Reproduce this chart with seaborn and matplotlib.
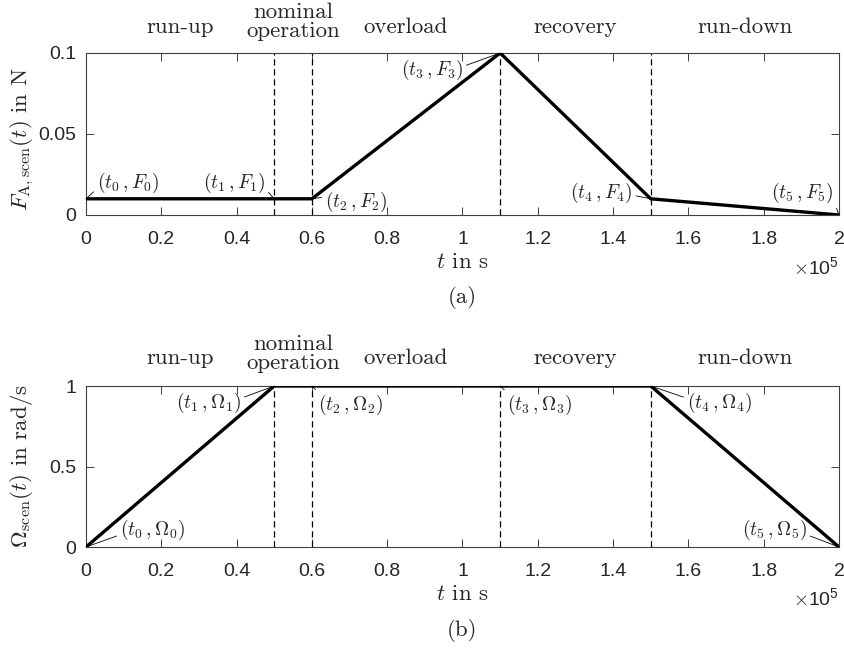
import os
import numpy as np
import pandas as pd
import matplotlib
matplotlib.use("Agg")
import matplotlib.pyplot as plt
from matplotlib.ticker import FuncFormatter, FixedLocator
from matplotlib.font_manager import FontProperties
import seaborn as sns

# ---------------- data ----------------
t_points = [0, 50000, 60000, 110000, 150000, 200000]          # s
F_values = [0.01, 0.01, 0.01, 0.10, 0.01, 0.0]                # N
Omega_values = [0.0, 1.0, 1.0, 1.0, 1.0, 0.0]                 # rad/s
phase_bounds = [50000, 60000, 110000, 150000]                 # dashed lines
phase_names = ["run-up", "nominal\noperation", "overload", "recovery", "run-down"]
phase_edges = [0, 50000, 60000, 110000, 150000, 200000]
x_ticks = [0, 20000, 40000, 60000, 80000, 100000, 120000, 140000, 160000, 180000, 200000]
F_ticks = [0, 0.05, 0.1]
Omega_ticks = [0, 0.5, 1]
F_labels = [r"$(t_0\,,F_0)$", r"$(t_1\,,F_1)$", r"$(t_2\,,F_2)$",
            r"$(t_3\,,F_3)$", r"$(t_4\,,F_4)$", r"$(t_5\,,F_5)$"]
O_labels = [r"$(t_0\,,\Omega_0)$", r"$(t_1\,,\Omega_1)$", r"$(t_2\,,\Omega_2)$",
            r"$(t_3\,,\Omega_3)$", r"$(t_4\,,\Omega_4)$", r"$(t_5\,,\Omega_5)$"]

df = pd.DataFrame({"t": t_points, "F": F_values, "Omega": Omega_values})

# ---------------- style ----------------
sns.set_style("ticks")
plt.rcParams["mathtext.fontset"] = "cm"
plt.rcParams["axes.formatter.use_mathtext"] = True
plt.rcParams["font.family"] = ["Liberation Sans", "DejaVu Sans"]

TICK_FS = 14
LABEL_FS = 16.5
ANN_FS = 14

cm_path = os.path.join(matplotlib.get_data_path(), "fonts", "ttf", "cmr10.ttf")
def serif_fp(size):
    if os.path.exists(cm_path):
        return FontProperties(fname=cm_path, size=size)
    return FontProperties(family="Liberation Serif", size=size)

fig = plt.figure(figsize=(8.45, 6.5), dpi=100)
ax1 = fig.add_axes([86 / 845, 1 - 215 / 650, (839 - 86) / 845, 162 / 650])
ax2 = fig.add_axes([86 / 845, 1 - 547 / 650, (839 - 86) / 845, 161 / 650])

def style_axes(ax, yticks, ylim):
    ax.set_xlim(0, 200000)
    ax.set_ylim(*ylim)
    ax.xaxis.set_major_locator(FixedLocator(x_ticks))
    ax.yaxis.set_major_locator(FixedLocator(yticks))
    ax.xaxis.set_major_formatter(FuncFormatter(lambda v, p: f"{v / 1e5:g}"))
    ax.yaxis.set_major_formatter(FuncFormatter(lambda v, p: f"{v:g}"))
    ax.tick_params(direction="in", length=6, width=0.7, top=True, right=True,
                   labelsize=TICK_FS, color="0.25", pad=7)
    ax.tick_params(axis="x", pad=11.5)
    for s in ax.spines.values():
        s.set_visible(True)
        s.set_linewidth(0.8)
        s.set_color("0.25")
    for b in phase_bounds:
        ax.axvline(b, color="black", lw=0.9, ls=(0, (5, 3)), zorder=1)
    ax.set_xlabel(r"$t$ in s", fontproperties=serif_fp(LABEL_FS), labelpad=3)
    ax.text(1.0, -0.32, r"$\times\mathregular{10^5}$", transform=ax.transAxes,
            ha="right", va="center", fontsize=TICK_FS)

def phase_text(ax, y_single, y_double):
    tr = ax.get_xaxis_transform()
    for i, name in enumerate(phase_names):
        xc = 0.5 * (phase_edges[i] + phase_edges[i + 1])
        yy = y_double if "\n" in name else y_single
        ax.text(xc, yy, name, transform=tr, ha="center", va="center",
                fontproperties=serif_fp(LABEL_FS), linespacing=0.95, clip_on=False)

def annotate(ax, label, xy, off, ha, relpos):
    ax.annotate(label, xy=xy, xytext=off, textcoords="offset pixels",
                ha=ha, va="center", fontsize=ANN_FS, annotation_clip=False,
                arrowprops=dict(arrowstyle="-", lw=0.6, color="black",
                                shrinkA=0, shrinkB=0, relpos=relpos))

def set_ylab(ax, text, yfrac):
    ax.set_ylabel(text, fontproperties=serif_fp(LABEL_FS))
    ax.yaxis.label.set_verticalalignment("center")
    ax.yaxis.set_label_coords(-64 / 753, yfrac)

# ---------------- top panel ----------------
sns.lineplot(data=df, x="t", y="F", ax=ax1, color="black", lw=2.4,
             sort=False, estimator=None, zorder=3)
style_axes(ax1, F_ticks, (0, 0.1))
set_ylab(ax1, r"$F_{\mathrm{A,scen}}(t)$ in N", 0.47)
phase_text(ax1, 1 + 26 / 162, 1 + 31.5 / 162)
F_off = [((11, 16), "left", (0, 0.25)), ((-9, 16), "right", (1, 0.25)),
         ((13, -3), "left", (0, 0.7)), ((-37, -17), "right", (1, 0.65)),
         ((-18, 6), "right", (1, 0.4)), ((-5, 22), "right", (1, 0.15))]
for i, (off, ha, rp) in enumerate(F_off):
    annotate(ax1, F_labels[i], (t_points[i], F_values[i]), off, ha, rp)
fig.text(462 / 845, 1 - 297 / 650, "(a)", ha="center", va="center",
         fontproperties=serif_fp(LABEL_FS))

# ---------------- bottom panel ----------------
sns.lineplot(data=df, x="t", y="Omega", ax=ax2, color="black", lw=2.4,
             sort=False, estimator=None, zorder=3)
style_axes(ax2, Omega_ticks, (0, 1))
set_ylab(ax2, r"$\Omega_{\mathrm{scen}}(t)$ in rad/s", 0.5)
phase_text(ax2, 1 + 28 / 161, 1 + 32 / 161)
O_off = [((34, 17), "left", (0, 0.3)), ((-33, -17), "right", (1, 0.7)),
         ((6, -19), "left", (0.03, 0.95)), ((7, -19), "left", (0.03, 0.95)),
         ((36, -17), "left", (0, 0.7)), ((-32, 17), "right", (1, 0.3))]
for i, (off, ha, rp) in enumerate(O_off):
    annotate(ax2, O_labels[i], (t_points[i], Omega_values[i]), off, ha, rp)
fig.text(462 / 845, 1 - 631 / 650, "(b)", ha="center", va="center",
         fontproperties=serif_fp(LABEL_FS))

fig.savefig("out.png", dpi=100)
